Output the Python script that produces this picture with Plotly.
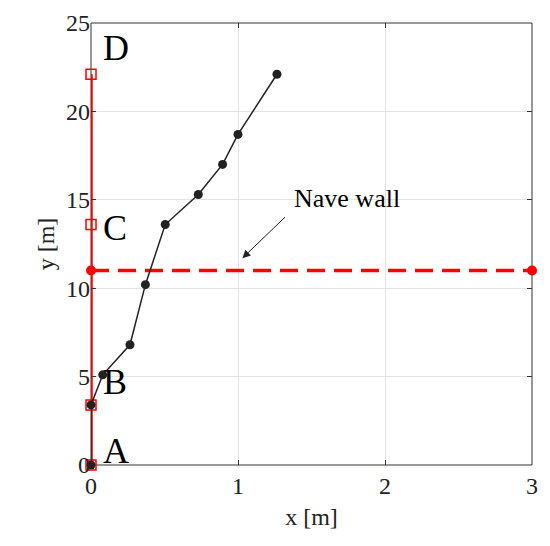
import plotly.graph_objects as go

path_x = [0, 0, 0.08, 0.265, 0.37, 0.505, 0.73, 0.895, 1.0, 1.265]
path_y = [0, 3.4, 5.1, 6.8, 10.2, 13.6, 15.3, 17.0, 18.7, 22.1]

ref_x = [0, 0, 0, 0]
ref_y = [0, 3.4, 13.6, 22.1]
ref_labels = ["A", "B", "C", "D"]
label_y = [0.8, 4.7, 13.4, 23.6]

wall_x = [0, 3]
wall_y = [11, 11]

FONT = "Liberation Serif"

fig = go.Figure()
fig.add_trace(go.Scatter(x=[0, 0], y=[0, 22.1], mode="lines",
                         line=dict(color="#ff0000", width=3.5), showlegend=False,
                         cliponaxis=False))
fig.add_trace(go.Scatter(x=ref_x, y=ref_y, mode="markers",
                         marker=dict(symbol="square-open", size=10, color="#ff0000",
                                     line=dict(width=1.5, color="#ff0000")),
                         cliponaxis=False, showlegend=False))
fig.add_trace(go.Scatter(x=wall_x, y=wall_y, mode="lines",
                         line=dict(color="#ff0000", width=3.5, dash="18px,9px"),
                         showlegend=False))
fig.add_trace(go.Scatter(x=wall_x, y=wall_y, mode="markers",
                         marker=dict(symbol="circle", size=10, color="#ff0000"),
                         cliponaxis=False, showlegend=False))
fig.add_trace(go.Scatter(x=path_x, y=path_y, mode="lines+markers",
                         line=dict(color="#222222", width=1.5),
                         marker=dict(symbol="circle", size=9, color="#222222"),
                         cliponaxis=False, showlegend=False))

for lab, ly in zip(ref_labels, label_y):
    fig.add_annotation(x=0.07, y=ly, text=lab, showarrow=False, xanchor="left",
                       yanchor="middle", font=dict(family=FONT, size=36, color="black"))

fig.add_annotation(x=1.03, y=11.7, ax=1.33, ay=14.1, axref="x", ayref="y",
                   text="", showarrow=True, arrowhead=2, arrowsize=1.6, arrowwidth=1,
                   arrowcolor="#222222")
fig.add_annotation(x=1.37, y=15.05, text="Nave wall", showarrow=False, xanchor="left",
                   yanchor="middle", font=dict(family=FONT, size=26, color="black"))

# frame drawn beneath the traces so the red line at x=0 sits on top of it
fig.add_shape(type="rect", xref="x domain", yref="y domain", x0=0, x1=1, y0=0, y1=1,
              line=dict(color="#333333", width=1), layer="below")

axis_common = dict(showline=False, mirror="ticks",
                   ticks="inside", ticklen=5, tickcolor="#333333", automargin=False,
                   showgrid=True, gridcolor="#e3e3e3", gridwidth=1, zeroline=False,
                   tickfont=dict(family=FONT, size=24, color="#222222"))

fig.update_xaxes(range=[0, 3], tickvals=[0, 1, 2, 3], ticklabelstandoff=4,
                 title=dict(text="x [m]", font=dict(family=FONT, size=24, color="#222222"),
                            standoff=10), **axis_common)
fig.update_yaxes(range=[0, 25], tickvals=[0, 5, 10, 15, 20, 25],
                 title=dict(text="y [m]", font=dict(family=FONT, size=24, color="#222222"),
                            standoff=4), **axis_common)

# page body has an 8px margin, so the figure is sized and offset to compensate
fig.update_layout(width=542, height=538, margin=dict(l=83, r=18, t=15, b=81),
                  plot_bgcolor="white", paper_bgcolor="white")

fig.write_html("out.html")
